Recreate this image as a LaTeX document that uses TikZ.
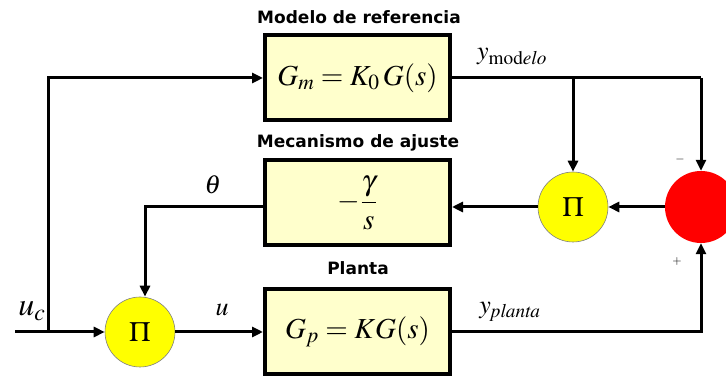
\documentclass[tikz,border=0pt]{standalone}
\usepackage{mathptmx}
\usepackage{fontspec}
\setsansfont{DejaVu Sans}
\usetikzlibrary{arrows.meta}
\definecolor{boxfill}{HTML}{FFFFCC}
\definecolor{ylw}{HTML}{FFFF00}
\definecolor{rd}{HTML}{FF0000}
\begin{document}
\begin{tikzpicture}[x=1pt,y=1pt,
  blk/.style={draw=black,line width=4pt,fill=boxfill,minimum width=185pt,minimum height=85pt,inner sep=0pt,font=\fontsize{29}{33}\selectfont},
  mult/.style={circle,draw=gray,line width=0.6pt,fill=ylw,minimum size=70pt,inner sep=0pt,font=\fontsize{28}{32}\selectfont},
  sumc/.style={circle,draw=none,fill=rd,minimum size=72pt,inner sep=0pt},
  ttl/.style={font=\sffamily\bfseries\fontsize{17}{20}\selectfont},
  sig/.style={line width=3pt,-{Triangle[length=11pt,width=10pt]}},
  wire/.style={line width=3pt},
  lbl/.style={font=\fontsize{26}{30}\selectfont,inner sep=0pt}]
\clip (0,0) rectangle (726,379);
\fill[white] (0,0) rectangle (726,379);
\node[blk] (top) at (357.5,301) {$G_m = K_0\,G(s)$};
\node[blk] (mid) at (357.5,176) {$-{\displaystyle\frac{\gamma}{s}}$};
\node[blk] (bot) at (357.5,47) {$G_p = KG(s)$};
\node[mult] (p1) at (140,47) {$\Pi$};
\node[mult] (p2) at (573,172) {$\Pi$};
\node[sumc] (sum) at (701,172) {};
\node[ttl] (t1) at (359,362) {Modelo de referencia};
\node[ttl] (t2) at (358,236) {Mecanismo de ajuste};
\node[ttl] (t3) at (358,111) {Planta};
\coordinate (in) at (15,47);
\coordinate (j1) at (48,47);
\coordinate (j2) at (48,301);
\coordinate (j3) at (573,301);
\coordinate (j4) at (701,301);
\coordinate (j5) at (145,172);
\coordinate (j6) at (701,47);
% input
\draw[sig] (in) -- (p1.west);
\draw[sig] (j1) -- (j2) -- (top.west |- j2);
% model output
\draw[wire] (top.east |- j2) -- (j4);
\draw[sig] (j4) -- (sum.north);
\draw[sig] (j3) -- (p2.north);
% adjustment loop
\draw[sig] (sum.west) -- (p2.east);
\draw[sig] (p2.west) -- (p2.west -| mid.east);
\draw[sig] (mid.west |- j5) -- (j5) -- (j5 |- p1.north);
% plant
\draw[sig] (p1.east) -- (bot.west |- p1);
\draw[sig] (bot.east |- j6) -- (j6) -- (sum.south);
% labels
\node[lbl] (lym) at (512,322) {$y_{\mathrm{mod}\mathit{elo}}$};
\node[lbl] (lth) at (213,194) {$\theta$};
\node[lbl] (lu) at (222,69) {$u$};
\node[lbl] (lyp) at (510,67) {$y_{\mathit{planta}}$};
\node[lbl,font=\fontsize{32}{36}\selectfont] (luc) at (32,68) {$u_c$};
\node[font=\fontsize{12}{14}\selectfont] (lminus) at (680,219) {$-$};
\node[font=\fontsize{12}{14}\selectfont] (lplus) at (677,117) {$+$};
\end{tikzpicture}
\end{document}
